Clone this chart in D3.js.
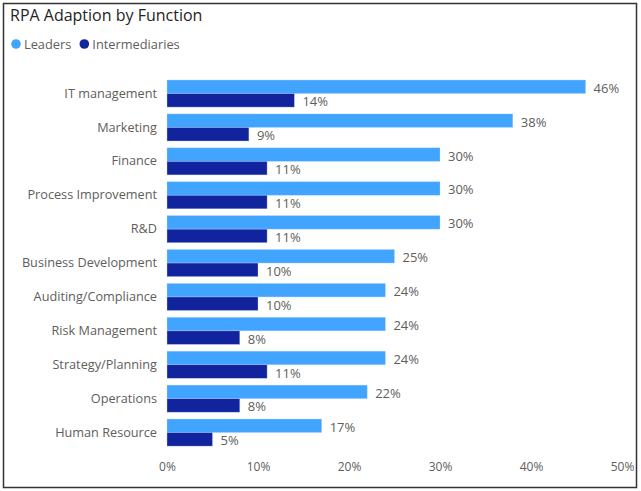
<!DOCTYPE html>
<html><head><meta charset="utf-8">
<script src="https://cdn.jsdelivr.net/npm/d3@7"></script>
<style>
body{margin:0;background:#fff;}
svg text{font-family:"Segoe UI","Open Sans","Noto Sans",sans-serif;}
</style></head>
<body><svg id="c" width="641" height="491"></svg>
<script>
const categories = ["IT management","Marketing","Finance","Process Improvement","R&D","Business Development","Auditing/Compliance","Risk Management","Strategy/Planning","Operations","Human Resource"];
const leaders = [46,38,30,30,30,25,24,24,24,22,17];
const intermediaries = [14,9,11,11,11,10,10,8,11,8,5];
const seriesNames = ["Leaders","Intermediaries"];
const xTicks = [0,10,20,30,40,50];
const colors = ["#41A4FF","#12239E"];

const svg = d3.select("#c");
svg.append("rect").attr("x",3.5).attr("y",3.5).attr("width",633).attr("height",484)
  .attr("fill","#fff").attr("stroke","#333").attr("stroke-width",1.5);

svg.append("text").attr("x",10).attr("y",21).attr("font-size",16).attr("fill","#252423").text("RPA Adaption by Function");

const lg = svg.append("g");
let lx = 16;
seriesNames.forEach((n,i)=>{
  lg.append("circle").attr("cx",lx).attr("cy",44).attr("r",4.8).attr("fill",colors[i]);
  const t = lg.append("text").attr("x",lx+8).attr("y",48.5).attr("font-size",12.8).attr("fill","#605E5C").text(n);
  lx += t.node().getComputedTextLength() + 21;
});

const x = d3.scaleLinear().domain([0,50]).range([167,622]);
const y = d3.scaleBand().domain(categories).range([76.6,449.5]).paddingInner(0.2).paddingOuter(0.1);
const sub = d3.scaleBand().domain(seriesNames).range([0,y.bandwidth()]);

const data = categories.map((c,i)=>({c, vals:[leaders[i],intermediaries[i]]}));
const g = svg.append("g");
data.forEach(d=>{
  d.vals.forEach((v,j)=>{
    const yy = y(d.c)+sub(seriesNames[j]);
    g.append("rect").attr("x",x(0)).attr("y",yy).attr("width",x(v)-x(0)).attr("height",sub.bandwidth())
      .attr("fill",colors[j]).attr("stroke","#BFD9F5").attr("stroke-width",0.6).attr("stroke-opacity",0.6);
    g.append("text").attr("x",x(v)+8).attr("y",yy+sub.bandwidth()/2+6)
      .attr("font-size",13).attr("fill","#605E5C").text(v+"%");
  });
});

const yAxis = svg.append("g").attr("transform","translate(157,0)")
  .call(d3.axisLeft(y).tickSize(0).tickPadding(0));
yAxis.select(".domain").remove();
yAxis.selectAll("text").attr("font-size",12.7).attr("fill","#605E5C").attr("font-family",null);

const xAxis = svg.append("g").attr("transform","translate(0,471)")
  .call(d3.axisBottom(x).tickValues(xTicks).tickFormat(d=>d+"%").tickSize(0).tickPadding(0));
xAxis.select(".domain").remove();
xAxis.selectAll("text").attr("font-size",12).attr("fill","#605E5C").attr("font-family",null).attr("dy","0");
</script></body></html>
